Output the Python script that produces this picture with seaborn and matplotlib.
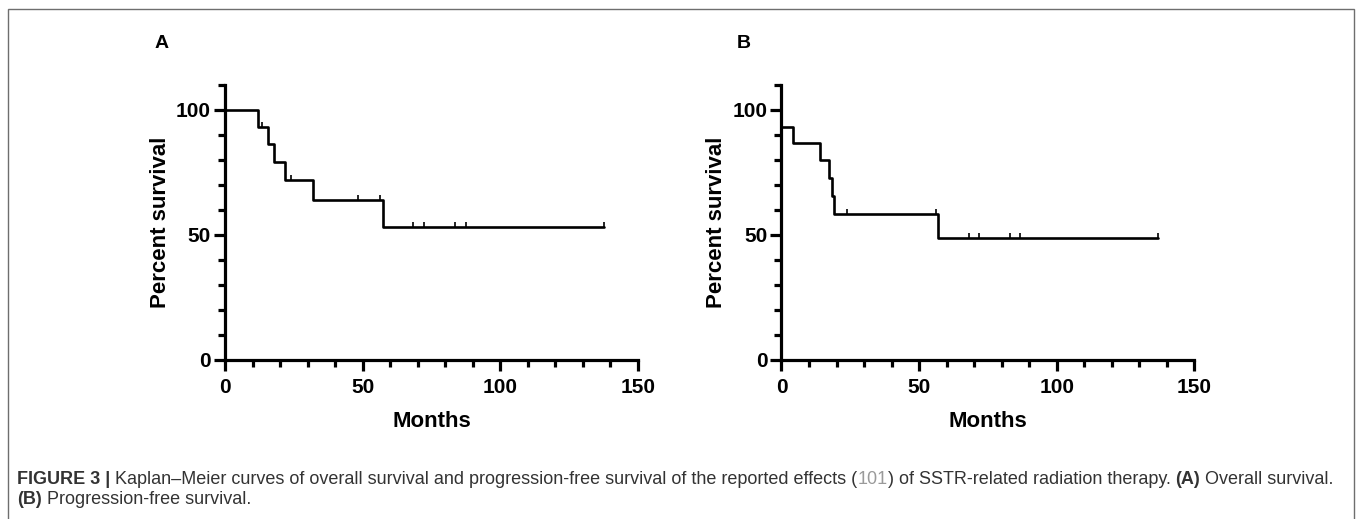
import matplotlib
matplotlib.use("Agg")
import matplotlib.pyplot as plt
from matplotlib.path import Path
from matplotlib.patches import Rectangle
from matplotlib.ticker import MultipleLocator
import seaborn as sns

# Overall survival (A)
os_months = [0, 11.9, 15.5, 17.7, 21.9, 32.0, 57.3, 137.8]
os_surv = [100, 93.3, 86.2, 79.0, 71.8, 63.8, 53.2, 53.2]
os_cens_months = [13.6, 23.8, 48.2, 56.2, 68.3, 72.4, 83.4, 87.4, 137.8]
os_cens_surv = [93.3, 71.8, 63.8, 63.8, 53.2, 53.2, 53.2, 53.2, 53.2]

# Progression-free survival (B)
pfs_months = [0, 4.2, 14.1, 17.2, 18.4, 19.2, 57.0, 136.8]
pfs_surv = [93.3, 86.7, 80.0, 72.9, 65.6, 58.3, 48.6, 48.6]
pfs_cens_months = [23.9, 56.2, 68.0, 71.8, 83.1, 86.8, 136.8]
pfs_cens_surv = [58.3, 58.3, 48.6, 48.6, 48.6, 48.6, 48.6]

panel_labels = ["A", "B"]

sns.set_style("ticks")
plt.rcParams["font.family"] = ["Liberation Sans", "DejaVu Sans"]
plt.rcParams["text.color"] = "black"
plt.rcParams["axes.labelcolor"] = "black"
plt.rcParams["xtick.color"] = "black"
plt.rcParams["ytick.color"] = "black"
plt.rcParams["axes.edgecolor"] = "black"

fig = plt.figure(figsize=(13.57, 5.19), dpi=100)

# censor mark: short tick pointing up from the curve
cens_marker = Path([(0, 0), (0, 1)], [Path.MOVETO, Path.LINETO])


def km_panel(ax, months, surv, cmonths, csurv):
    sns.lineplot(x=months, y=surv, ax=ax, color="black", linewidth=1.9,
                 drawstyle="steps-post", estimator=None, sort=False)
    ax.plot(cmonths, csurv, linestyle="none", marker=cens_marker,
            markersize=7.5, markeredgewidth=1.2, color="black")
    ax.set_xlim(0, 150)
    ax.set_ylim(0, 110)
    ax.xaxis.set_major_locator(MultipleLocator(50))
    ax.xaxis.set_minor_locator(MultipleLocator(10))
    ax.yaxis.set_major_locator(MultipleLocator(50))
    ax.yaxis.set_minor_locator(MultipleLocator(10))
    sns.despine(ax=ax)
    for s in ["left", "bottom"]:
        ax.spines[s].set_linewidth(2.3)
    ax.tick_params(which="major", length=8, width=2.3, labelsize=15)
    ax.tick_params(axis="y", which="major", pad=2)
    ax.tick_params(axis="x", which="major", pad=5)
    ax.tick_params(which="minor", length=5, width=2.3)
    for lab in ax.get_xticklabels() + ax.get_yticklabels():
        lab.set_fontweight("bold")
    ax.set_xlabel("Months", fontsize=16, fontweight="bold", labelpad=10)
    ax.set_ylabel("Percent survival", fontsize=16, fontweight="bold", labelpad=4)
    for line in ax.lines:
        line.set_clip_on(False)


ax_a = fig.add_axes([0.1658, 0.3064, 0.3043, 0.5299])
ax_b = fig.add_axes([0.5759, 0.3064, 0.3043, 0.5299])
km_panel(ax_a, os_months, os_surv, os_cens_months, os_cens_surv)
km_panel(ax_b, pfs_months, pfs_surv, pfs_cens_months, pfs_cens_surv)

fig.text(155 / 1357, 1 - 43 / 519, panel_labels[0], fontsize=14, fontweight="bold", va="center")
fig.text(737 / 1357, 1 - 43 / 519, panel_labels[1], fontsize=14, fontweight="bold", va="center")

# frame around the figure
fig.patches.append(Rectangle((8 / 1357, -0.05), (1354 - 8) / 1357, 1.05 - 9 / 519,
                             transform=fig.transFigure, fill=False,
                             edgecolor="#6e6e6e", linewidth=1.0))

# caption, pieced together so bold and plain parts sit in one line
cap_font = ["Liberation Sans", "DejaVu Sans"]
cap_size = 13.0
line1 = [("FIGURE 3 | ", "bold", "#333333"),
         ("Kaplan\u2013Meier curves of overall survival and progression-free survival of the reported effects (", "normal", "#333333"),
         ("101", "normal", "#9a9a9a"),
         (") of SSTR-related radiation therapy. ", "normal", "#333333"),
         ("(A)", "bold", "#333333"),
         (" Overall survival.", "normal", "#333333")]
line2 = [("(B)", "bold", "#333333"),
         (" Progression-free survival.", "normal", "#333333")]

renderer = fig.canvas.get_renderer()
for y_px, parts in [(479, line1), (500, line2)]:
    x = 17 / 1357
    for txt, weight, col in parts:
        t = fig.text(x, 1 - y_px / 519, txt, fontsize=cap_size, fontweight=weight,
                     color=col, family=cap_font, va="center")
        bb = t.get_window_extent(renderer=renderer)
        x += bb.width / fig.bbox.width

fig.savefig("out.png", dpi=100)
